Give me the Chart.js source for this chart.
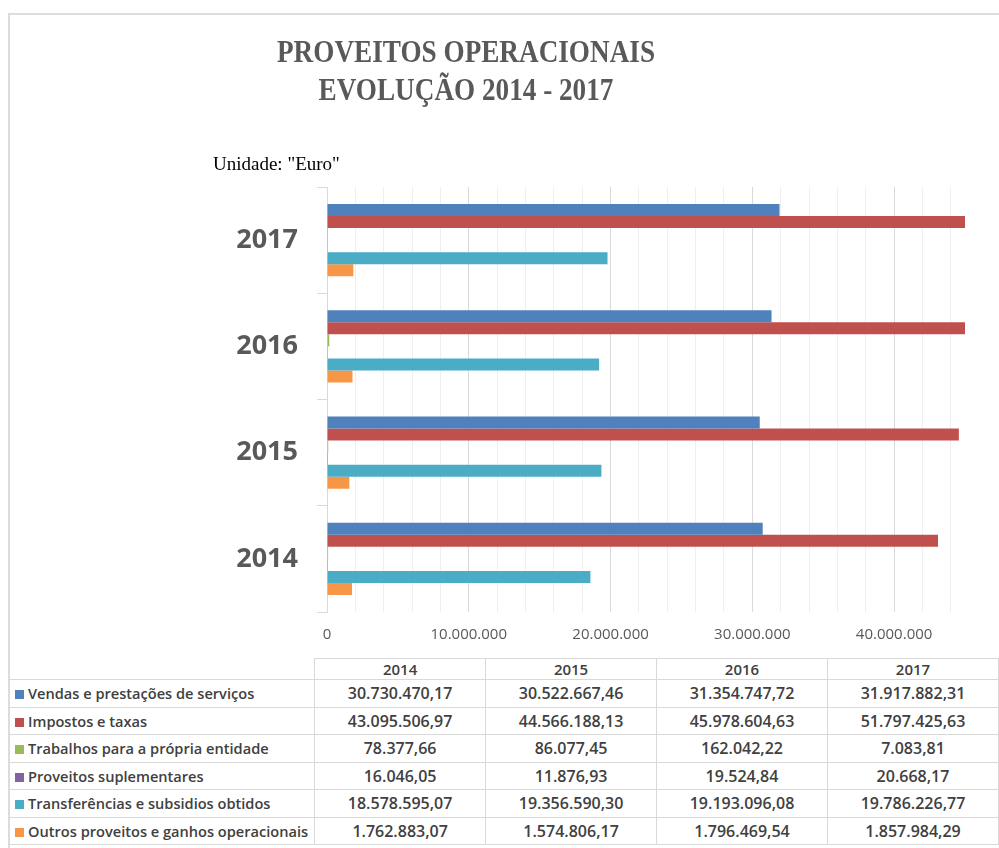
<!DOCTYPE html>
<html lang="pt">
<head>
<meta charset="utf-8">
<title>Proveitos operacionais 2014 - 2017</title>
<script src="https://cdn.jsdelivr.net/npm/chart.js@4.4.1/dist/chart.umd.min.js"></script>
<style>
  html, body { margin:0; padding:0; background:#fff; overflow:hidden; }
  #wrap { position:relative; width:999px; height:848px; overflow:hidden; }
  #frame { position:absolute; left:8px; top:13px; width:1100px; height:900px;
           border-left:2px solid #dcdcdc; border-top:2px solid #dcdcdc; }
  #chart { position:absolute; left:0; top:0; }
  #dataTable { position:absolute; left:9px; top:658px; border-collapse:collapse; table-layout:fixed;
               font-family:"Open Sans", sans-serif; color:#404040; }
  #dataTable th, #dataTable td { border:1px solid #d9d9d9; padding:0; white-space:nowrap; overflow:hidden; }
  #dataTable th { height:20px; font-size:15px; font-weight:600; text-align:center; }
  #dataTable th.blank { border-top:none; border-left:none; }
  #dataTable td { height:26.5px; font-size:16px; font-weight:600; text-align:center; }
  #dataTable td.name { text-align:left; font-size:14.6px; border-left:none; }
  .key { display:inline-block; width:9px; height:9px; margin:0 4px 0 6px; vertical-align:0px; }
</style>
</head>
<body>
<div id="wrap">
  <div id="frame"></div>
  <canvas id="chart" width="999" height="658"></canvas>
  <table id="dataTable">
    <colgroup><col style="width:306px"><col style="width:175px"><col style="width:175px"><col style="width:175px"><col style="width:175px"></colgroup>
    <thead></thead>
    <tbody></tbody>
  </table>
</div>
<script>
const titleLines = ['PROVEITOS OPERACIONAIS', 'EVOLUÇÃO 2014 - 2017'];
const unitText = 'Unidade: "Euro"';

const years = ['2014', '2015', '2016', '2017'];
const seriesNames = [
  'Vendas e prestações de serviços',
  'Impostos e taxas',
  'Trabalhos para a própria entidade',
  'Proveitos suplementares',
  'Transferências e subsidios obtidos',
  'Outros proveitos e ganhos operacionais'
];
const vendas         = [30730470.17, 30522667.46, 31354747.72, 31917882.31];
const impostos       = [43095506.97, 44566188.13, 45978604.63, 51797425.63];
const trabalhos      = [78377.66, 86077.45, 162042.22, 7083.81];
const suplementares  = [16046.05, 11876.93, 19524.84, 20668.17];
const transferencias = [18578595.07, 19356590.30, 19193096.08, 19786226.77];
const outros         = [1762883.07, 1574806.17, 1796469.54, 1857984.29];
const seriesValues = [vendas, impostos, trabalhos, suplementares, transferencias, outros];

// x axis: max 45M (longest bars get cut), minor grid every 2M, labels every 10M
const axisMax = 45000000;
const gridStep = 2000000;
const labelStep = 10000000;

const seriesColors = ['#4F81BD', '#C0504D', '#9BBB59', '#8064A2', '#4BACC6', '#F79646'];

// pt-PT style numbers: 1.234.567,89
function groupThousands(s){ return s.replace(/\B(?=(\d{3})+(?!\d))/g, '.'); }
function fmtInt(v){ return groupThousands(String(Math.round(v))); }
function fmtMoney(v){
  const parts = v.toFixed(2).split('.');
  return groupThousands(parts[0]) + ',' + parts[1];
}

// data table under the chart
const thead = document.querySelector('#dataTable thead');
const tbody = document.querySelector('#dataTable tbody');
let head = '<tr><th class="blank"></th>';
years.forEach(y => { head += '<th>' + y + '</th>'; });
thead.innerHTML = head + '</tr>';
let rows = '';
seriesNames.forEach((name, i) => {
  rows += '<tr><td class="name"><span class="key" style="background:' + seriesColors[i] + '"></span>' + name + '</td>';
  seriesValues[i].forEach(v => { rows += '<td>' + fmtMoney(v) + '</td>'; });
  rows += '</tr>';
});
tbody.innerHTML = rows;

const headerText = {
  id: 'headerText',
  afterDraw(chart){
    const ctx = chart.ctx;
    ctx.save();
    ctx.fillStyle = '#595959';
    ctx.font = 'bold 32px "Liberation Serif", serif';
    ctx.textAlign = 'center';
    ctx.textBaseline = 'alphabetic';
    const sx = 378 / ctx.measureText(titleLines[0]).width;
    titleLines.forEach((t, i) => {
      ctx.save();
      ctx.translate(466, 62 + i * 38);
      ctx.scale(sx, 1);
      ctx.fillText(t, 0, 0);
      ctx.restore();
    });
    ctx.fillStyle = '#000';
    ctx.font = '19px "Liberation Serif", serif';
    ctx.textAlign = 'left';
    ctx.fillText(unitText, 213, 170);
    ctx.restore();
  }
};

const datasets = seriesNames.map((name, i) => ({
  label: name,
  data: seriesValues[i],
  backgroundColor: seriesColors[i],
  borderWidth: 0,
  barPercentage: 1,
  categoryPercentage: 0.68
}));

new Chart(document.getElementById('chart'), {
  type: 'bar',
  data: { labels: years, datasets },
  options: {
    indexAxis: 'y',
    responsive: false,
    animation: false,
    layout: { padding: { top: 187, right: 34, left: 0, bottom: 0 } },
    plugins: { legend: { display: false }, tooltip: { enabled: false }, title: { display: false } },
    scales: {
      x: {
        min: 0,
        max: axisMax,
        border: { display: false },
        grid: {
          drawTicks: false,
          color: c => (c.tick && c.tick.value % labelStep === 0) ? '#d9d9d9' : '#efefef'
        },
        afterBuildTicks: s => {
          const t = [];
          for (let v = 0; v < axisMax; v += gridStep) t.push({ value: v });
          s.ticks = t;
        },
        ticks: {
          autoSkip: false,
          maxRotation: 0,
          padding: 14,
          color: '#595959',
          font: { family: '"Open Sans", sans-serif', size: 15 },
          callback: v => v % labelStep === 0 ? fmtInt(v) : ''
        },
        afterFit: s => { s.height = 46; }
      },
      y: {
        reverse: true,
        border: { color: '#d9d9d9' },
        grid: { drawOnChartArea: false, tickLength: 10, color: '#d9d9d9' },
        ticks: {
          padding: 19,
          color: '#595959',
          font: { family: '"Open Sans", sans-serif', size: 27, weight: 'bold' }
        },
        afterFit: s => { s.width = 327; }
      }
    }
  },
  plugins: [headerText]
});
</script>
</body>
</html>
